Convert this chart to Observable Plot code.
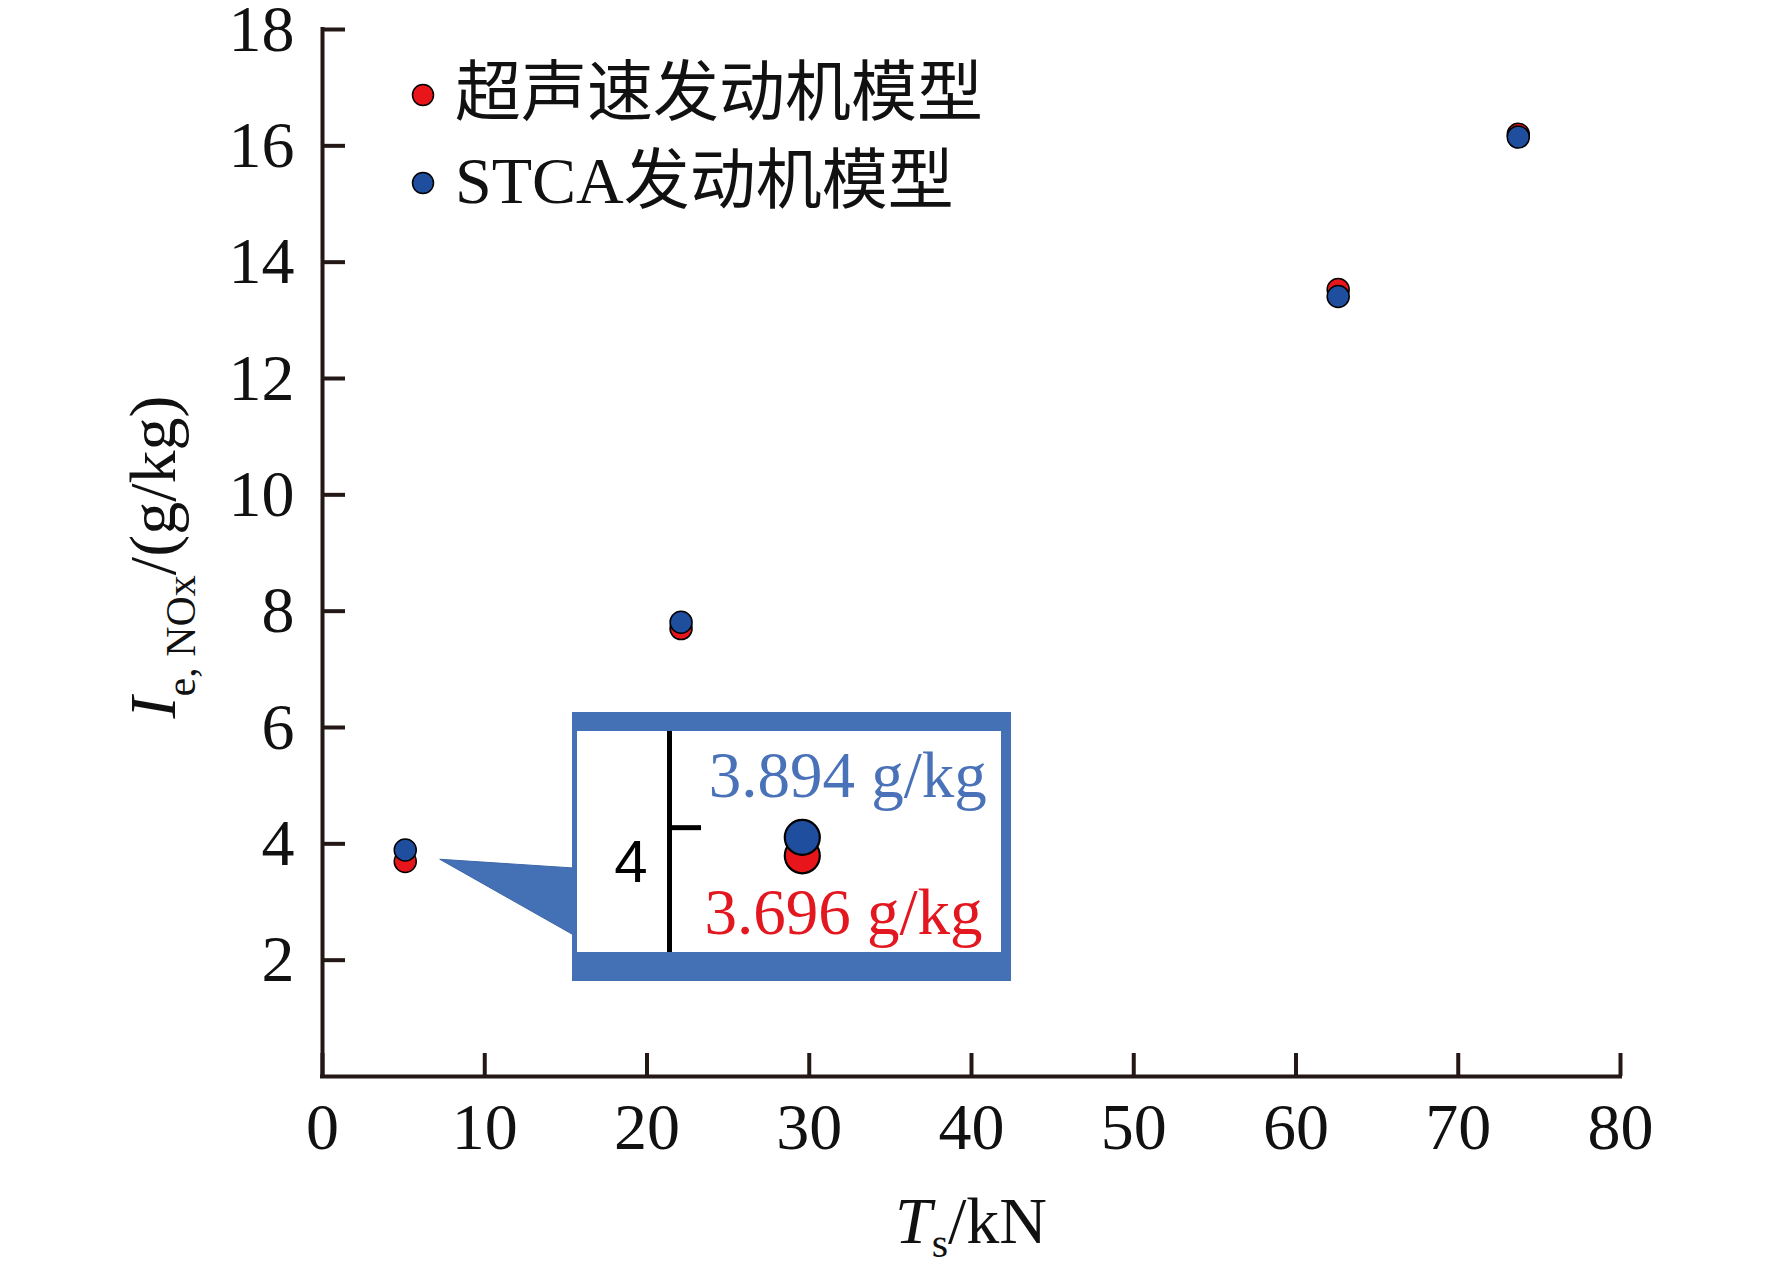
<!DOCTYPE html>
<html>
<head>
<meta charset="utf-8">
<script src="https://cdn.jsdelivr.net/npm/d3@7"></script>
<script src="https://cdn.jsdelivr.net/npm/@observablehq/plot@0.6"></script>
<style>
  html, body { margin: 0; padding: 0; background: #fff; }
  #wrap { position: relative; width: 1772px; height: 1277px; overflow: hidden; background: #fff; }
  #wrap > svg { position: absolute; left: 0; top: 0; }
  #inset { position: absolute; box-sizing: content-box; background: #fff;
           border-style: solid; border-color: #4470b6; }
  #inset svg { display: block; }
</style>
</head>
<body>
<div id="wrap"></div>
<script>
// ---- data ----
const thrust = [5.1, 22.1, 62.6, 73.7];               // T_s / kN
const supersonicModel = [3.696, 7.70, 13.53, 16.20];  // 超声速发动机模型
const stcaModel = [3.894, 7.81, 13.41, 16.15];        // STCA发动机模型
const seriesNames = ["超声速发动机模型", "STCA发动机模型"];
const seriesColors = ["#e8161b", "#1f4e9f"];
const xTicks = [0, 10, 20, 30, 40, 50, 60, 70, 80];
const yTicks = [2, 4, 6, 8, 10, 12, 14, 16, 18];
const insetTick = [4];
const unitLabel = "g/kg";

const red = thrust.map((x, i) => ({x, y: supersonicModel[i]}));
const blue = thrust.map((x, i) => ({x, y: stcaModel[i]}));

// ---- layout ----
const W = 1772, H = 1277;
const mL = 322, mR = 152, mT = 29, mB = 201;
const innerW = W - mL - mR, innerH = H - mT - mB;
const axisColor = "#231815";
const tickLen = 23;
const intFmt = d => String(d);

const main = Plot.plot({
  width: W, height: H,
  marginLeft: mL, marginRight: mR, marginTop: mT, marginBottom: mB,
  style: {fontFamily: "'Liberation Serif', 'Times New Roman', serif", background: "#fff", color: "#111"},
  x: {domain: [0, 80]},
  y: {domain: [0, 18]},
  marks: [
    Plot.ruleX(xTicks, {x: d => d, stroke: axisColor, strokeWidth: 4, insetTop: innerH - tickLen}),
    Plot.ruleY(yTicks, {y: d => d, stroke: axisColor, strokeWidth: 4, insetRight: innerW - tickLen}),
    Plot.ruleY([0], {stroke: axisColor, strokeWidth: 4, strokeLinecap: "square"}),
    Plot.ruleX([0], {stroke: axisColor, strokeWidth: 4, strokeLinecap: "square"}),
    Plot.axisX(xTicks, {tickSize: 0, tickPadding: 26, fontSize: 66, label: null, fill: "#111", tickFormat: intFmt}),
    Plot.axisY(yTicks, {tickSize: 0, tickPadding: 28, fontSize: 66, label: null, fill: "#111", tickFormat: intFmt}),
    Plot.dot(red, {x: "x", y: "y", r: 11, fill: seriesColors[0], stroke: "#000", strokeWidth: 1.5}),
    Plot.dot(blue, {x: "x", y: "y", r: 11, fill: seriesColors[1], stroke: "#000", strokeWidth: 1.5})
  ]
});
const wrap = document.getElementById("wrap");
wrap.appendChild(main);

const svg = d3.select(main);
const serif = "'Liberation Serif', 'Times New Roman', 'Noto Sans CJK SC', serif";

// x axis title: T_s/kN
const xt = svg.append("text")
  .attr("x", mL + innerW / 2).attr("y", 1243)
  .attr("text-anchor", "middle").attr("font-family", serif).attr("font-size", 66).attr("fill", "#111");
xt.append("tspan").attr("font-style", "italic").text("T");
xt.append("tspan").attr("font-size", 42).attr("dy", 14).text("s");
xt.append("tspan").attr("font-size", 66).attr("dy", -14).text("/kN");

// y axis title: I_{e, NOx}/(g/kg)
const yt = svg.append("text")
  .attr("transform", "translate(175,557) rotate(-90)")
  .attr("text-anchor", "middle").attr("font-family", serif).attr("font-size", 66).attr("fill", "#111");
yt.append("tspan").attr("font-style", "italic").text("I");
yt.append("tspan").attr("font-size", 42).attr("dy", 20).text("e, NOx");
yt.append("tspan").attr("font-size", 66).attr("dy", -20).text("/(g/kg)");

// legend
const legendY = [95, 183];
seriesNames.forEach((name, i) => {
  svg.append("circle").attr("cx", 423).attr("cy", legendY[i]).attr("r", 10.5)
    .attr("fill", seriesColors[i]).attr("stroke", "#000").attr("stroke-width", 1.5);
  svg.append("text").attr("x", 455).attr("y", legendY[i]).attr("dy", "0.3em")
    .attr("text-anchor", "start")
    .attr("font-family", serif).attr("font-size", 66).attr("fill", "#111").text(name);
});

// callout triangle from the first data point to the inset box
const xs = main.scale("x"), ys = main.scale("y");
const px = xs.apply(thrust[0]), py = ys.apply((supersonicModel[0] + stcaModel[0]) / 2);
const boxL = 571.7, boxT = 711.7;
svg.append("polygon")
  .attr("points", [[px + 35, py + 4], [boxL + 2, 868], [boxL + 2, 935]].map(p => p.join(",")).join(" "))
  .attr("fill", "#4470b6").attr("stroke", "#3d66a8").attr("stroke-width", 1);

// inset (zoom on the first point)
const insetW = 424, insetH = 221;
const insetDiv = document.createElement("div");
insetDiv.id = "inset";
insetDiv.style.left = boxL + "px";
insetDiv.style.top = boxT + "px";
insetDiv.style.width = insetW + "px";
insetDiv.style.height = insetH + "px";
insetDiv.style.borderWidth = "19px 10px 29px 5px";
wrap.appendChild(insetDiv);

const inset = Plot.plot({
  width: insetW, height: insetH,
  marginLeft: 92, marginRight: 0, marginTop: 0, marginBottom: 0,
  style: {fontFamily: "'Liberation Serif', 'Times New Roman', serif", background: "#fff"},
  x: {domain: [4.3, 6.3], axis: null},
  y: {domain: [2.65, 5.04], axis: null},
  marks: [
    Plot.frame({anchor: "left", stroke: "#000", strokeWidth: 5}),
    Plot.ruleY(insetTick, {y: d => d, stroke: "#000", strokeWidth: 5, insetRight: (insetW - 92) - 32}),
    Plot.axisY(insetTick, {tickSize: 0, tickPadding: 22, dy: 35, fontSize: 60, tickFormat: intFmt,
      fontFamily: "'Liberation Sans', Arial, sans-serif", label: null, fill: "#000"}),
    Plot.dot(red.slice(0, 1), {x: "x", y: "y", r: 17.5, fill: seriesColors[0], stroke: "#000", strokeWidth: 2.2}),
    Plot.dot(blue.slice(0, 1), {x: "x", y: "y", r: 17.5, fill: seriesColors[1], stroke: "#000", strokeWidth: 2.2}),
    Plot.text(blue.slice(0, 1), {x: "x", y: "y", text: d => `${d.y.toFixed(3)} ${unitLabel}`,
      dx: 45.5, dy: -40.7, lineAnchor: "bottom", fontSize: 65, fill: "#4a72b9"}),
    Plot.text(red.slice(0, 1), {x: "x", y: "y", text: d => `${d.y.toFixed(3)} ${unitLabel}`,
      dx: 41.2, dy: 78.3, lineAnchor: "bottom", fontSize: 65, fill: "#e3171f"})
  ]
});
insetDiv.appendChild(inset);
</script>
</body>
</html>
